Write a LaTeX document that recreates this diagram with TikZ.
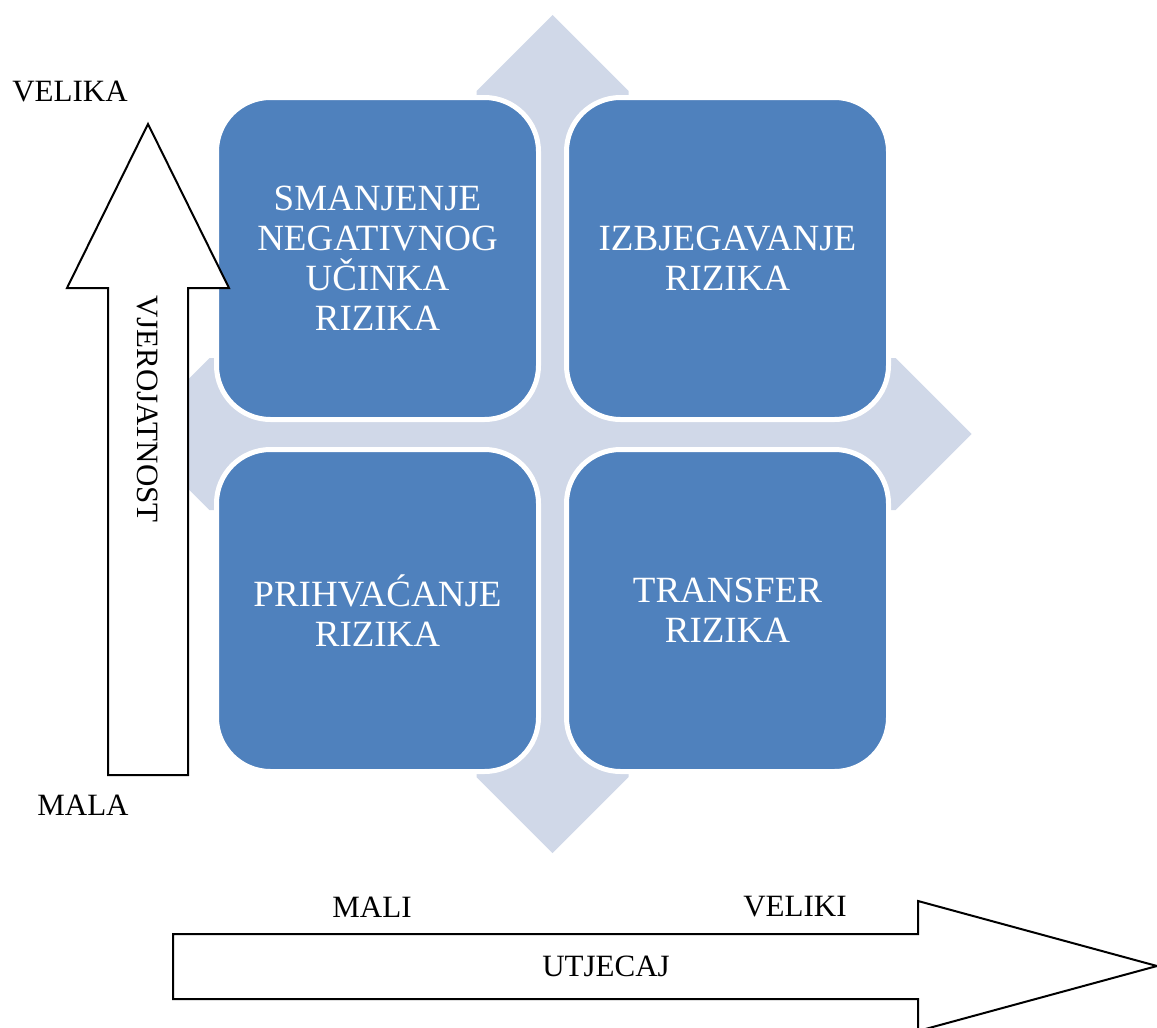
\documentclass[tikz,border=0pt]{standalone}
\usepackage{fontspec}
\setmainfont{Liberation Serif}
\usepackage{xcolor}
\usetikzlibrary{positioning,calc}
\definecolor{quadblue}{HTML}{4F81BD}
\definecolor{crossblue}{HTML}{D0D8E8}

\begin{document}
\begin{tikzpicture}[x=0.5pt, y=-0.5pt, quad/.style={
                rectangle, draw=white, line width=2.5pt, outer sep=0pt, fill=quadblue, rounded corners=27pt,
                minimum width=161pt, minimum height=161pt, text=white, align=center,
                font=\fontsize{18.5}{20}\selectfont},
                axis-label/.style={inner sep=0pt, font=\fontsize{15.5}{18}\selectfont},
                axis-arrow/.style={draw=black, fill=white, line width=1pt, line join=miter}]
                \useasboundingbox (0,0) rectangle (1157,1028);
                \fill[crossblue] (552.5,15) -- (628.5,91) -- (628.5,358) -- (895.5,358) -- (971.5,434)
                    -- (895.5,510) -- (628.5,510) -- (628.5,777) -- (552.5,853) -- (476.5,777)
                    -- (476.5,510) -- (209.5,510) -- (133.5,434) -- (209.5,358) -- (476.5,358)
                    -- (476.5,91) -- cycle;
                \node[quad] (smanjenje) at (377.5,258.5) {SMANJENJE\\NEGATIVNOG\\UČINKA\\RIZIKA};
                \node[quad, right=14pt of smanjenje] (izbjegavanje) {IZBJEGAVANJE\\RIZIKA};
                \node[quad, below=15pt of smanjenje] (prihvacanje) {PRIHVAĆANJE\\RIZIKA};
                \node[quad, below=15pt of izbjegavanje] (transfer) {TRANSFER\\RIZIKA};
                \draw[axis-arrow] (108,775) -- (108,288) -- (67,288) -- (148,124) -- (229,288)
                    -- (188,288) -- (188,775) -- cycle;
                \draw[axis-arrow] (173,934) -- (918,934) -- (918,901) -- (1157,966) -- (918,1031)
                    -- (918,999) -- (173,999) -- cycle;
                \node[axis-label] (velika) at (70,92) {VELIKA};
                \node[axis-label] (mala) at (83,805) {MALA};
                \node[axis-label, rotate=-90] (vjerojatnost) at (148,409) {VJEROJATNOST};
                \node[axis-label] (mali) at (372,907) {MALI};
                \node[axis-label] (veliki) at (795,907) {VELIKI};
                \node[axis-label] (utjecaj) at (606,966) {UTJECAJ};
\end{tikzpicture}
\end{document}
